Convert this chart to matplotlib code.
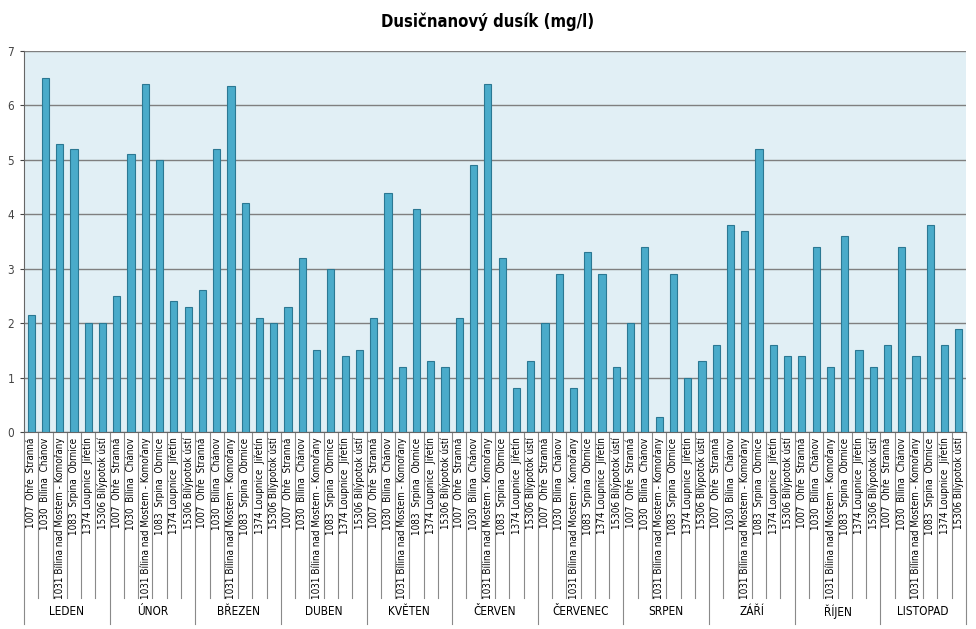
"""Bar chart of nitrate nitrogen by month and station"""
import matplotlib
matplotlib.use("Agg")
import matplotlib.pyplot as plt
import matplotlib.transforms as mtransforms

plt.rcParams['font.family'] = ['DejaVu Sans']
plt.rcParams['font.stretch'] = 'condensed'

months = ["LEDEN", "ÚNOR", "BŘEZEN", "DUBEN", "KVĚTEN", "ČERVEN",
          "ČERVENEC", "SRPEN", "ZÁŘÍ", "ŘÍJEN", "LISTOPAD"]
stations = [
    "1007  Ohře  Stranná",
    "1030  Bílina  Chánov",
    "1031 Bílina nad Mostem - Komořany",
    "1083  Srpina  Obrnice",
    "1374 Loupnice  Jiřetín",
    "15306 Bílýpotok ústí",
]
# one row per month, one value per station
values = [
    [2.15, 6.5, 5.3, 5.2, 2.0, 2.0],
    [2.5, 5.1, 6.4, 5.0, 2.4, 2.3],
    [2.6, 5.2, 6.35, 4.2, 2.1, 2.0],
    [2.3, 3.2, 1.5, 3.0, 1.4, 1.5],
    [2.1, 4.4, 1.2, 4.1, 1.3, 1.2],
    [2.1, 4.9, 6.4, 3.2, 0.8, 1.3],
    [2.0, 2.9, 0.8, 3.3, 2.9, 1.2],
    [2.0, 3.4, 0.27, 2.9, 1.0, 1.3],
    [1.6, 3.8, 3.7, 5.2, 1.6, 1.4],
    [1.4, 3.4, 1.2, 3.6, 1.5, 1.2],
    [1.6, 3.4, 1.4, 3.8, 1.6, 1.9],
]

BAR_COLOR = "#4aabca"
BAR_EDGE = "#2b7893"
PLOT_BG = "#e1eff5"
GRID_COLOR = "#7f7f7f"


def plot_nitrate():
    n_st = len(stations)
    heights = [v for row in values for v in row]
    labels = [s for _ in months for s in stations]
    xs = list(range(len(heights)))

    fig = plt.figure(figsize=(9.76, 6.29), dpi=100)
    ax = fig.add_axes([24 / 976, 1 - 432 / 629, 942 / 976, 381 / 629])
    ax.set_facecolor(PLOT_BG)

    ax.bar(xs, heights, width=0.5, color=BAR_COLOR, edgecolor=BAR_EDGE,
           linewidth=0.8, zorder=3)

    ax.set_xlim(-0.5, len(xs) - 0.5)
    ax.set_ylim(0, 7)
    ax.set_yticks(range(8))
    ax.yaxis.grid(True, color=GRID_COLOR, lw=1, zorder=1)
    ax.tick_params(axis='y', length=3, labelsize=8.5, colors='#444444', pad=4)

    ax.set_xticks(xs)
    ax.set_xticklabels(labels, rotation=90, fontsize=7.1)
    ax.tick_params(axis='x', length=0, pad=4)

    for side in ["top", "right"]:
        ax.spines[side].set_visible(False)
    ax.spines["left"].set_color("#666666")
    ax.spines["bottom"].set_color("#666666")

    # separators and month labels below the axis
    trans = mtransforms.blended_transform_factory(ax.transData, ax.transAxes)
    for i in range(len(xs) + 1):
        x = i - 0.5
        if i % n_st == 0:
            ax.plot([x, x], [0, -0.505], transform=trans, color="#8a8a8a",
                    lw=0.8, clip_on=False)
        else:
            ax.plot([x, x], [0, -0.435], transform=trans, color="#8a8a8a",
                    lw=0.8, clip_on=False)
    for m, month in enumerate(months):
        ax.text(m * n_st + (n_st - 1) / 2, -0.472, month, transform=trans,
                ha="center", va="center", fontsize=8.5)

    fig.text(0.5, 1 - 22 / 629, "Dusičnanový dusík (mg/l)", ha="center",
             va="center", fontsize=12, fontweight="bold")

    fig.savefig("out.png", dpi=100)


if __name__ == "__main__":
    plot_nitrate()
